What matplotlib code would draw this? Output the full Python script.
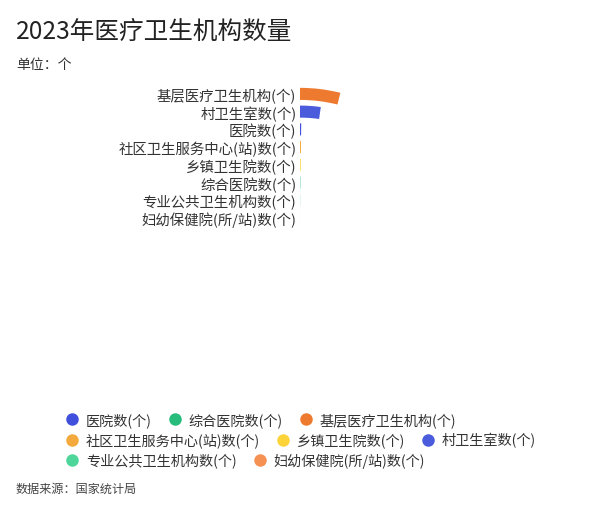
import numpy as np
import matplotlib
matplotlib.use("Agg")
import matplotlib.pyplot as plt
from matplotlib.lines import Line2D

plt.rcParams['font.family'] = ['Noto Sans CJK SC', 'DejaVu Sans']

# ---- data (ordered inner -> outer ring) ----
ring_categories = ['妇幼保健院(所/站)数(个)', '专业公共卫生机构数(个)', '综合医院数(个)',
                   '乡镇卫生院数(个)', '社区卫生服务中心(站)数(个)', '医院数(个)',
                   '村卫生室数(个)', '基层医疗卫生机构(个)']
ring_values = [3063, 12121, 20700, 33753, 37177, 38355, 581964, 1016238]

legend_order = ['医院数(个)', '综合医院数(个)', '基层医疗卫生机构(个)',
                '社区卫生服务中心(站)数(个)', '乡镇卫生院数(个)', '村卫生室数(个)',
                '专业公共卫生机构数(个)', '妇幼保健院(所/站)数(个)']
colors = {
    '医院数(个)': '#4150DC',
    '综合医院数(个)': '#25BC7C',
    '基层医疗卫生机构(个)': '#EE7A2F',
    '社区卫生服务中心(站)数(个)': '#F3A93B',
    '乡镇卫生院数(个)': '#FCD43A',
    '村卫生室数(个)': '#4A5CDB',
    '专业公共卫生机构数(个)': '#4ED69A',
    '妇幼保健院(所/站)数(个)': '#F49153',
}

title = '2023年医疗卫生机构数量'
subtitle = '单位：个'
source = '数据来源：国家统计局'

ANGLE_MAX = 26.0e6  # value corresponding to a full circle

W, H = 600, 510
fig = plt.figure(figsize=(W / 100, H / 100), dpi=100)

cx, cy, R = 300, 255, 169
ax = fig.add_axes([(cx - R) / W, (H - cy - R) / H, 2 * R / W, 2 * R / H],
                  projection='polar')
ax.set_theta_zero_location('N')
ax.set_theta_direction(-1)
ax.set_rorigin(-27 / 17.74)
ax.set_ylim(0, len(ring_categories))
ax.axis('off')

for i, (cat, val) in enumerate(zip(ring_categories, ring_values)):
    theta = val / ANGLE_MAX * 2 * np.pi
    ax.bar(0, 0.68, width=theta, bottom=i + 0.16, align='edge',
           color=colors[cat], edgecolor='none')
    ax.annotate(cat, xy=(0, i + 0.5), xytext=(-2.6, -1), textcoords='offset points',
                ha='right', va='center', fontsize=10.4, color='#333333')

fig.text(16 / W, 1 - 33 / H, title, fontsize=17.7, color='#222222',
         ha='left', va='center')
fig.text(16 / W, 1 - 65 / H, subtitle, fontsize=10.0, color='#333333',
         ha='left', va='center')
fig.text(16 / W, 1 - 489 / H, source, fontsize=8.7, color='#444444',
         ha='left', va='center')

rows = [legend_order[0:3], legend_order[3:6], legend_order[6:8]]
row_y = [421, 441, 461]
for names, yy in zip(rows, row_y):
    handles = [Line2D([], [], marker='o', linestyle='none', markersize=9,
                      markerfacecolor=colors[n], markeredgecolor='none')
               for n in names]
    fig.legend(handles, names, loc='center left',
               bbox_to_anchor=(65 / W, 1 - yy / H), ncol=len(names),
               frameon=False, fontsize=10.2, handletextpad=0.48,
               columnspacing=1.12, handlelength=1.0, borderpad=0,
               borderaxespad=0, labelcolor='#333333')

fig.savefig('out.png', dpi=100, facecolor='white')
